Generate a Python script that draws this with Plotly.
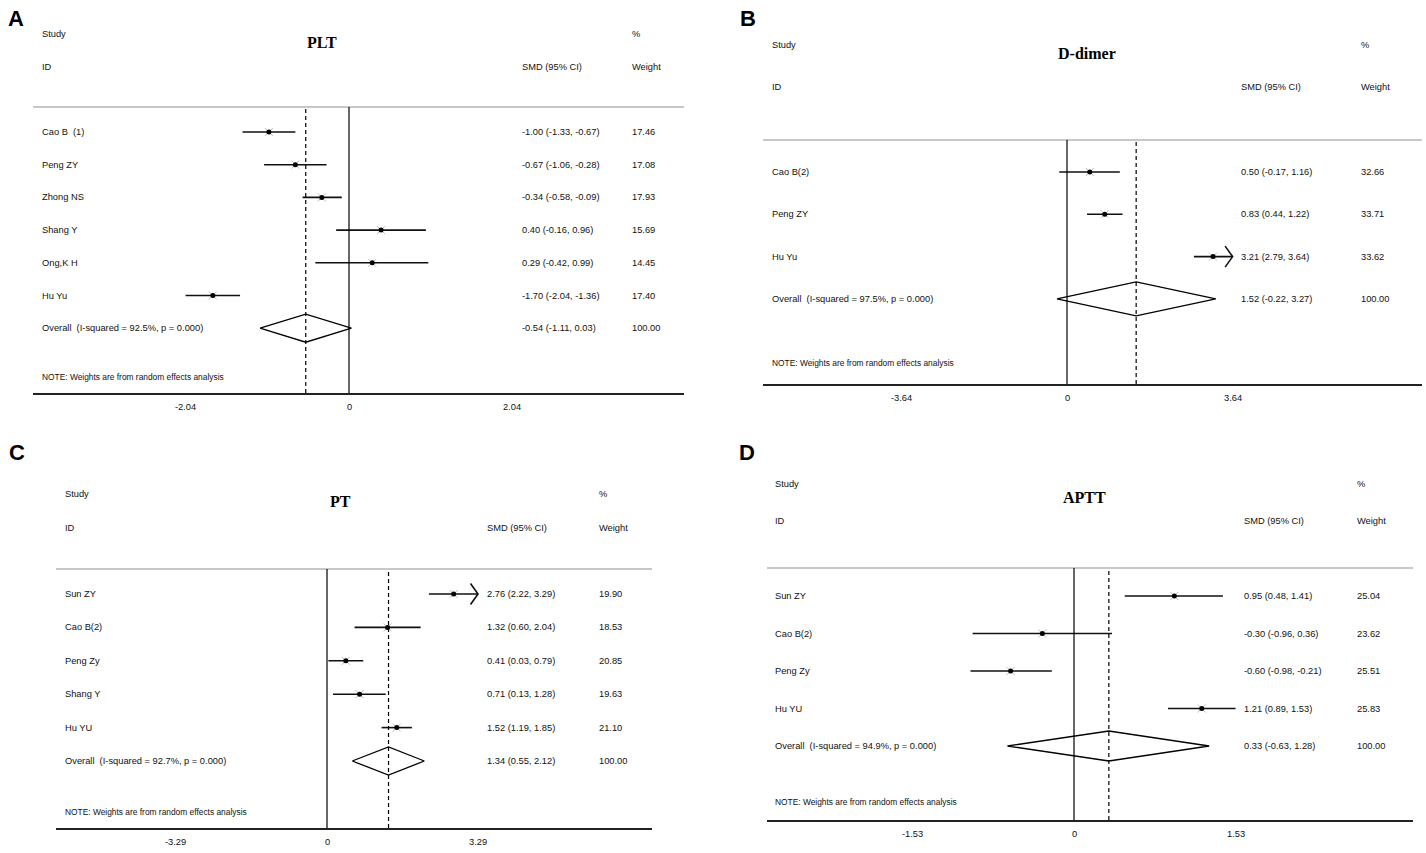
import plotly.graph_objects as go

W, H = 1426, 853

# ------------------------- data -------------------------
plt_studies = ["Cao B  (1)", "Peng ZY", "Zhong NS", "Shang Y", "Ong,K H", "Hu Yu"]
plt_smd = [-1.00, -0.67, -0.34, 0.40, 0.29, -1.70]
plt_lo = [-1.33, -1.06, -0.58, -0.16, -0.42, -2.04]
plt_hi = [-0.67, -0.28, -0.09, 0.96, 0.99, -1.36]
plt_weight = [17.46, 17.08, 17.93, 15.69, 14.45, 17.40]
plt_clipped = [False, False, False, False, False, False]
plt_overall = [-0.54, -1.11, 0.03]
plt_overall_weight = 100.00
plt_i2 = "92.5%"
plt_p = "0.000"
plt_tick = 2.04

dd_studies = ["Cao B(2)", "Peng ZY", "Hu Yu"]
dd_smd = [0.50, 0.83, 3.21]
dd_lo = [-0.17, 0.44, 2.79]
dd_hi = [1.16, 1.22, 3.64]
dd_weight = [32.66, 33.71, 33.62]
dd_clipped = [False, False, True]
dd_overall = [1.52, -0.22, 3.27]
dd_overall_weight = 100.00
dd_i2 = "97.5%"
dd_p = "0.000"
dd_tick = 3.64

pt_studies = ["Sun ZY", "Cao B(2)", "Peng Zy", "Shang Y", "Hu YU"]
pt_smd = [2.76, 1.32, 0.41, 0.71, 1.52]
pt_lo = [2.22, 0.60, 0.03, 0.13, 1.19]
pt_hi = [3.29, 2.04, 0.79, 1.28, 1.85]
pt_weight = [19.90, 18.53, 20.85, 19.63, 21.10]
pt_clipped = [True, False, False, False, False]
pt_overall = [1.34, 0.55, 2.12]
pt_overall_weight = 100.00
pt_i2 = "92.7%"
pt_p = "0.000"
pt_tick = 3.29

aptt_studies = ["Sun ZY", "Cao B(2)", "Peng Zy", "Hu YU"]
aptt_smd = [0.95, -0.30, -0.60, 1.21]
aptt_lo = [0.48, -0.96, -0.98, 0.89]
aptt_hi = [1.41, 0.36, -0.21, 1.53]
aptt_weight = [25.04, 23.62, 25.51, 25.83]
aptt_clipped = [False, False, False, False]
aptt_overall = [0.33, -0.63, 1.28]
aptt_overall_weight = 100.00
aptt_i2 = "94.9%"
aptt_p = "0.000"
aptt_tick = 1.53

# ------------------------- layout geometry (pixels) -------------------------
panels = [
    dict(letter="A", title="PLT", studies=plt_studies, smd=plt_smd, lo=plt_lo, hi=plt_hi,
         weight=plt_weight, clipped=plt_clipped, overall=plt_overall, ow=plt_overall_weight,
         i2=plt_i2, p=plt_p, tick=plt_tick,
         x0=33, x1=684, zero=349, unit=80.1, top=107, bot=393, row0=132, step=32.7,
         letter_xy=(16, 18), study_y=34, id_y=67, title_xy=(322, 43),
         name_x=40, smd_x=520, w_x=630, note_y=377, tick_y=407, dh=14),
    dict(letter="B", title="D-dimer", studies=dd_studies, smd=dd_smd, lo=dd_lo, hi=dd_hi,
         weight=dd_weight, clipped=dd_clipped, overall=dd_overall, ow=dd_overall_weight,
         i2=dd_i2, p=dd_p, tick=dd_tick,
         x0=763, x1=1422, zero=1067, unit=45.5, top=140, bot=384, row0=172, step=42.3,
         letter_xy=(748, 18), study_y=45, id_y=87, title_xy=(1087, 53),
         name_x=770, smd_x=1239, w_x=1359, note_y=363, tick_y=398, dh=17),
    dict(letter="C", title="PT", studies=pt_studies, smd=pt_smd, lo=pt_lo, hi=pt_hi,
         weight=pt_weight, clipped=pt_clipped, overall=pt_overall, ow=pt_overall_weight,
         i2=pt_i2, p=pt_p, tick=pt_tick,
         x0=56, x1=652, zero=327, unit=45.9, top=569, bot=828, row0=594, step=33.4,
         letter_xy=(17, 452), study_y=494, id_y=528, title_xy=(340, 501),
         name_x=63, smd_x=485, w_x=597, note_y=812, tick_y=842, dh=14),
    dict(letter="D", title="APTT", studies=aptt_studies, smd=aptt_smd, lo=aptt_lo, hi=aptt_hi,
         weight=aptt_weight, clipped=aptt_clipped, overall=aptt_overall, ow=aptt_overall_weight,
         i2=aptt_i2, p=aptt_p, tick=aptt_tick,
         x0=767, x1=1413, zero=1074, unit=105.6, top=568, bot=820, row0=596, step=37.5,
         letter_xy=(747, 452), study_y=484, id_y=521, title_xy=(1084, 497),
         name_x=773, smd_x=1242, w_x=1355, note_y=802, tick_y=834, dh=15),
]

FONT = "Liberation Sans, Arial, sans-serif"
FS = 9.3
NOTE_FS = 8.4
TXT = "#111"

fig = go.Figure()
annotations = []
shapes = []
layout_axes = {}


def px(x):
    return x / W


def py(y):
    return 1 - y / H


def txt(x, y, s, yref="paper", size=FS):
    annotations.append(dict(x=x, y=y, xref="paper", yref=yref, text=s, showarrow=False,
                            xanchor="left", yanchor="middle",
                            font=dict(family=FONT, size=size, color=TXT)))


for k, P in enumerate(panels, start=1):
    xa = "x" if k == 1 else f"x{k}"
    ya = "y" if k == 1 else f"y{k}"
    xname = "xaxis" if k == 1 else f"xaxis{k}"
    yname = "yaxis" if k == 1 else f"yaxis{k}"
    n = len(P["studies"])

    xr = [(P["x0"] - P["zero"]) / P["unit"], (P["x1"] - P["zero"]) / P["unit"]]
    yr = [(P["bot"] - P["row0"]) / P["step"], (P["top"] - P["row0"]) / P["step"]]
    layout_axes[xname] = dict(domain=[px(P["x0"]), px(P["x1"])], range=xr, anchor=ya,
                              showgrid=False, zeroline=False, showticklabels=False, ticks="",
                              showline=True, linecolor="#222", linewidth=2, fixedrange=True)
    layout_axes[yname] = dict(domain=[py(P["bot"]), py(P["top"])], range=yr, anchor=xa,
                              showgrid=False, zeroline=False, showticklabels=False, ticks="",
                              showline=False, fixedrange=True)

    # header line
    shapes.append(dict(type="line", xref=f"{xa} domain", yref=f"{ya} domain", x0=0, x1=1, y0=1, y1=1,
                       line=dict(color="#c8c8c8", width=2)))
    # null line
    shapes.append(dict(type="line", xref=xa, yref=f"{ya} domain", x0=0, x1=0, y0=0, y1=1,
                       line=dict(color="#000", width=1.2)))
    # overall dashed line
    shapes.append(dict(type="line", xref=xa, yref=f"{ya} domain", x0=P["overall"][0], x1=P["overall"][0],
                       y0=0, y1=1, line=dict(color="#000", width=1.2, dash="4px,3px")))

    # CI lines
    cx, cy = [], []
    for i in range(n):
        cx += [P["lo"][i], P["hi"][i], None]
        cy += [i, i, None]
        if P["clipped"][i]:
            back = 7.5 / P["unit"]
            up = 10.5 / P["step"]
            cx += [P["hi"][i] - back, P["hi"][i], P["hi"][i] - back, None]
            cy += [i - up, i, i + up, None]
    fig.add_trace(go.Scatter(x=cx, y=cy, mode="lines", xaxis=xa, yaxis=ya,
                             line=dict(color="#111", width=1.6), hoverinfo="skip", showlegend=False))
    # weight boxes (faint) and point estimates
    fig.add_trace(go.Scatter(x=P["smd"], y=list(range(n)), mode="markers", xaxis=xa, yaxis=ya,
                             marker=dict(symbol="x-thin", size=8, line=dict(color="#bbbbbb", width=1)),
                             hoverinfo="skip", showlegend=False))
    fig.add_trace(go.Scatter(x=P["smd"], y=list(range(n)), mode="markers", xaxis=xa, yaxis=ya,
                             marker=dict(symbol="circle", size=5, color="#000"),
                             hoverinfo="skip", showlegend=False))
    # overall diamond
    est, olo, ohi = P["overall"]
    dh = P["dh"] / P["step"]
    fig.add_trace(go.Scatter(x=[olo, est, ohi, est, olo], y=[n, n - dh, n, n + dh, n], mode="lines",
                             xaxis=xa, yaxis=ya, line=dict(color="#000", width=1.3),
                             hoverinfo="skip", showlegend=False))

    # panel letter and title
    annotations.append(dict(x=px(P["letter_xy"][0]), y=py(P["letter_xy"][1]), xref="paper", yref="paper",
                            text=f"<b>{P['letter']}</b>", showarrow=False, xanchor="center", yanchor="middle",
                            font=dict(family="Liberation Sans, Arial, sans-serif", size=22, color="#000")))
    annotations.append(dict(x=px(P["title_xy"][0]), y=py(P["title_xy"][1]), xref="paper", yref="paper",
                            text=f"<b>{P['title']}</b>", showarrow=False, xanchor="center", yanchor="middle",
                            font=dict(family="Liberation Serif, Times New Roman, serif", size=16, color="#000")))
    # headers
    txt(px(P["name_x"]), py(P["study_y"]), "Study")
    txt(px(P["name_x"]), py(P["id_y"]), "ID")
    txt(px(P["smd_x"]), py(P["id_y"]), "SMD (95% CI)")
    txt(px(P["w_x"]), py(P["study_y"]), "%")
    txt(px(P["w_x"]), py(P["id_y"]), "Weight")
    # rows
    for i in range(n):
        txt(px(P["name_x"]), i, P["studies"][i], yref=ya)
        txt(px(P["smd_x"]), i, f"{P['smd'][i]:.2f} ({P['lo'][i]:.2f}, {P['hi'][i]:.2f})", yref=ya)
        txt(px(P["w_x"]), i, f"{P['weight'][i]:.2f}", yref=ya)
    txt(px(P["name_x"]), n, f"Overall  (I-squared = {P['i2']}, p = {P['p']})", yref=ya)
    txt(px(P["smd_x"]), n, f"{est:.2f} ({olo:.2f}, {ohi:.2f})", yref=ya)
    txt(px(P["w_x"]), n, f"{P['ow']:.2f}", yref=ya)
    txt(px(P["name_x"]), py(P["note_y"]), "NOTE: Weights are from random effects analysis", size=NOTE_FS)
    # tick labels on the data scale
    for tv in [-P["tick"], 0, P["tick"]]:
        lab = "0" if tv == 0 else f"{tv:.2f}"
        annotations.append(dict(x=tv, y=py(P["tick_y"]), xref=xa, yref="paper", text=lab, showarrow=False,
                                xanchor="center", yanchor="middle",
                                font=dict(family=FONT, size=FS, color=TXT)))

fig.update_layout(width=W, height=H, autosize=False, margin=dict(l=0, r=0, t=0, b=0),
                  paper_bgcolor="white", plot_bgcolor="white", showlegend=False,
                  annotations=annotations, shapes=shapes, **layout_axes)

fig.write_html("out.html", config={"displayModeBar": False},
               post_script="document.body.style.margin='0';document.body.style.overflow='hidden';")
